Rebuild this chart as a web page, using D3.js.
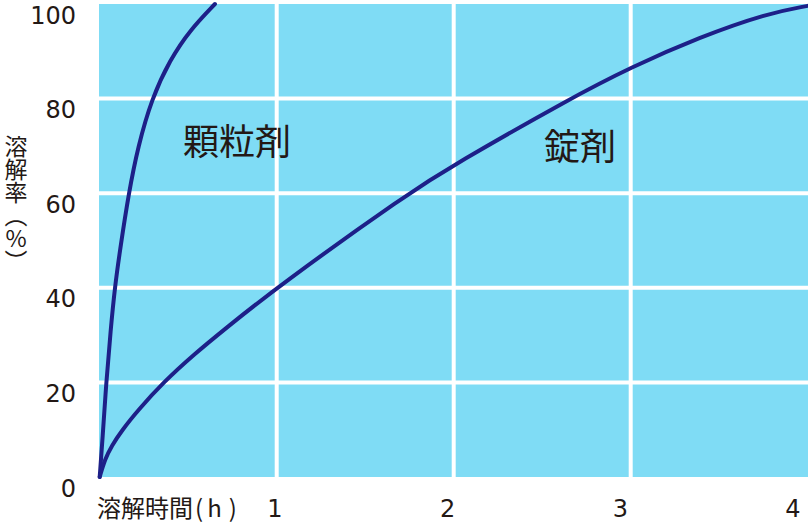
<!DOCTYPE html>
<html><head><meta charset="utf-8">
<script src="https://cdn.jsdelivr.net/npm/d3@7"></script>
<style>
html,body{margin:0;padding:0;background:#fff;}
svg{display:block;font-family:"Noto Sans CJK JP","Noto Sans",sans-serif;}
</style></head>
<body><svg id="chart" width="808" height="524"></svg>
<script>
// Data (dissolution time in h, dissolution rate in %)
const granuleTime = [0, 0.016, 0.037, 0.062, 0.085, 0.1175, 0.164, 0.216, 0.294, 0.397, 0.51, 0.651];
const granuleRate = [0, 8, 20.1, 31.1, 40, 48.7, 60, 69.8, 80, 88.2, 94.5, 100];
const tabletTime = [0, 0.03, 0.068, 0.124, 0.218, 0.359, 0.538, 0.708, 1, 1.744, 2, 2.657, 3, 3.39, 3.77, 4];
const tabletRate = [0, 3.8, 6.6, 9.8, 14.2, 20, 26.1, 31.3, 40.1, 60, 66, 80, 86.6, 93, 98, 99.6];
const xTicks = [1, 2, 3, 4];
const yTicks = [0, 20, 40, 60, 80, 100];
const seriesLabels = ["顆粒剤", "錠剤"];
const xTitleParts = ["溶解時間", "(", "h", ")"];
const yTitle = "溶解率（%）";

const svg = d3.select("#chart");
const x = d3.scaleLinear().domain([0, 4]).range([99.7, 807.7]);
const y = d3.scaleLinear().domain([0, 100]).range([477, 4]);
const textColor = "#231815";
const digitFont = "'DejaVu Sans', sans-serif";

// plot background
svg.append("rect").attr("x", 99).attr("y", y(100)).attr("width", 808 - 99).attr("height", y(0) - y(100))
  .attr("fill", "#7fdcf5");

// grid
svg.append("g").selectAll("line").data(yTicks.filter(d => d > 0 && d < 100)).join("line")
  .attr("x1", 99).attr("x2", 808).attr("y1", d => y(d)).attr("y2", d => y(d))
  .attr("stroke", "#fff").attr("stroke-width", 4);
svg.append("g").selectAll("line").data(xTicks.filter(d => d < 4)).join("line")
  .attr("x1", d => x(d)).attr("x2", d => x(d)).attr("y1", y(100)).attr("y2", y(0))
  .attr("stroke", "#fff").attr("stroke-width", 4);

// y tick labels
svg.append("g").selectAll("text").data(yTicks).join("text")
  .attr("x", 76).attr("y", d => y(d) + 19.5)
  .attr("text-anchor", "end").attr("font-size", 24).attr("font-family", digitFont)
  .attr("fill", textColor).text(d => d);

// x tick labels
const xl = d3.scaleLinear().domain([1, 4]).range([275, 793]);
svg.append("g").selectAll("text").data(xTicks).join("text")
  .attr("x", d => xl(d)).attr("y", 517)
  .attr("text-anchor", "middle").attr("font-size", 24).attr("font-family", digitFont)
  .attr("fill", textColor).text(d => d);

// x title
const xt = svg.append("text").attr("x", 97).attr("y", 517).attr("font-size", 24).attr("fill", textColor);
xt.append("tspan").text(xTitleParts[0]);
xt.append("tspan").attr("dx", 2).text(xTitleParts[1]);
xt.append("tspan").attr("dx", 4).text(xTitleParts[2]);
xt.append("tspan").attr("dx", 7).text(xTitleParts[3]);

// y title (vertical)
svg.append("text").attr("x", 16).attr("y", 135)
  .attr("writing-mode", "vertical-rl").style("text-orientation", "upright")
  .attr("font-size", 23)
  .attr("fill", textColor).text(yTitle);

// curves
const line = d3.line().x(d => x(d[0])).y(d => y(d[1])).curve(d3.curveBasis);
const granule = granuleTime.map((t, i) => [t, granuleRate[i]]);
const tablet = tabletTime.map((t, i) => [t, tabletRate[i]]);
[granule, tablet].forEach(s => {
  svg.append("path").attr("d", line(s)).attr("fill", "none")
    .attr("stroke", "#1d2088").attr("stroke-width", 4).attr("stroke-linecap", "round");
});

// series labels
svg.append("text").attr("x", 183).attr("y", 155).attr("font-size", 36).attr("fill", textColor).text(seriesLabels[0]);
svg.append("text").attr("x", 544).attr("y", 160).attr("font-size", 36).attr("fill", textColor).text(seriesLabels[1]);
</script></body></html>
